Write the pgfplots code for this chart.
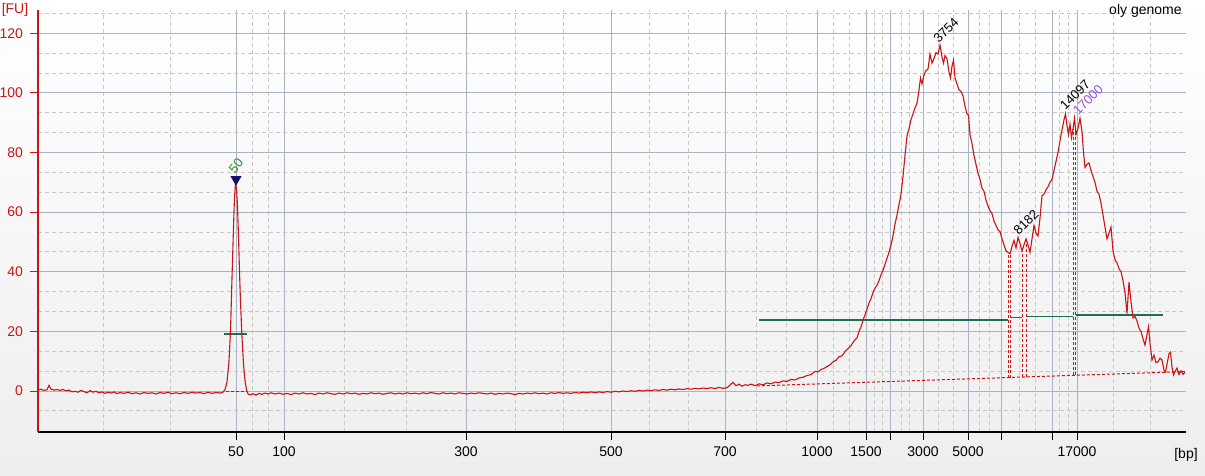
\documentclass[border=0pt]{standalone}
\usepackage{fontspec}
\setmainfont{Liberation Sans}
\usepackage{pgfplots}
\pgfplotsset{compat=1.18}
\definecolor{trace}{RGB}{204,20,20}
\definecolor{bgbot}{RGB}{238,238,238}
\definecolor{gridmaj}{RGB}{170,178,195}
\definecolor{gridmin}{RGB}{200,200,200}
\definecolor{thr}{RGB}{30,110,80}
\definecolor{ladder}{RGB}{40,140,40}
\definecolor{navy}{RGB}{20,20,110}
\definecolor{purp}{RGB}{150,80,220}
\begin{document}
\begin{tikzpicture}
\useasboundingbox (0,0) rectangle (602.5pt,238pt);
\shade[top color=white,bottom color=bgbot] (0,0) rectangle (602.5pt,238pt);
\begin{axis}[
  at={(19pt,22pt)}, anchor=south west,
  scale only axis, width=574pt, height=211pt,
  xmin=38, xmax=1186, ymin=-13.75, ymax=127.8,
  axis x line=bottom, axis y line=left, axis line style={-},
  x axis line style={black, line width=0.6pt},
  y axis line style={trace, line width=0.8pt},
  xtick={236,284,466,611,725,817,866,890,923,968,1001,1052,1077},
  xticklabels={50,100,300,500,700,1000,1500,,3000,5000,,,17000},
  minor xtick={103,170,252,268,344,406,515,563,649,688,756,786,833,849,874,882,901,909,938,953,979,989,1019,1035,1059,1068,1113,1150},
  ytick={0,20,...,120},
  minor ytick={-6.667,6.667,13.333,26.667,33.333,46.667,53.333,66.667,73.333,86.667,93.333,106.667,113.333,126.667},
  grid=both,
  major grid style={gridmaj, line width=0.5pt},
  minor grid style={gridmin, dash pattern=on 2pt off 1.5pt, line width=0.4pt},
  tick align=outside,
  major tick length=4pt, minor tick length=0pt,
  xtick style={black, line width=0.5pt},
  ytick style={trace, line width=0.5pt},
  ticklabel style={font=\fontsize{7}{8}\selectfont},
  yticklabel style={text=trace},
  /pgf/number format/assume math mode=true,
  clip=false,
]
% baselines
\addplot[trace, line width=0.5pt, dash pattern=on 1.5pt off 1pt] coordinates {(226,0) (247,0)};
\addplot[trace, line width=0.5pt, dash pattern=on 1.5pt off 1pt] coordinates {(757,1.7) (1185,6.5)};
% peak borders
\addplot[trace, line width=0.5pt, dash pattern=on 1.5pt off 1pt] coordinates {(1008.3,4.5) (1008.3,46.5)};
\addplot[trace, line width=0.5pt, dash pattern=on 1.5pt off 1pt] coordinates {(1010.7,4.5) (1010.7,46)};
\addplot[trace, line width=0.5pt, dash pattern=on 1.5pt off 1pt] coordinates {(1022.3,4.7) (1022.3,47)};
\addplot[trace, line width=0.5pt, dash pattern=on 1.5pt off 1pt] coordinates {(1026.7,4.7) (1026.7,51)};
\addplot[trace, line width=0.5pt, dash pattern=on 1.5pt off 1pt] coordinates {(1073.3,5.25) (1073.3,88)};
\addplot[trace, line width=0.5pt, dash pattern=on 1.5pt off 1pt] coordinates {(1075.7,5.25) (1075.7,88)};
% thresholds
\addplot[thr, line width=0.6pt] coordinates {(224,19.1) (246.7,19.1)};
\addplot[thr, line width=0.6pt] coordinates {(759,23.8) (1008.3,23.8)};
\addplot[thr, line width=0.6pt] coordinates {(1010.7,24.6) (1022.3,24.6)};
\addplot[thr, line width=0.6pt] coordinates {(1026.7,25.0) (1073.3,25.0)};
\addplot[thr, line width=0.6pt] coordinates {(1075.7,25.5) (1163,25.5)};
% trace
\addplot[trace, line width=0.55pt] coordinates {
(38,0.3) (41,0.6) (44,0.2) (47,0.4) (49,1.9) (51,0.6) (54,0.3) (57,0.5) (60,0.2) (63,0.5)
(66,0.1) (69,0.3) (72,-0.3) (75,-0.1) (78,-0.4) (81,0.2) (84,-0.2) (87,-0.6) (90,0.1) (93,-0.4)
(96,-0.1) (99,-0.6) (102,-0.3) (105,-0.8) (108,-0.4) (111,-0.7) (114,-0.3) (117,-0.9) (120,-0.5)
(124,-0.8) (128,-0.4) (132,-0.9) (136,-0.6) (140,-1.0) (144,-0.5) (148,-0.8) (152,-0.6) (156,-1.0)
(160,-0.5) (164,-0.8) (168,-0.4) (172,-0.9) (176,-0.6) (180,-0.9) (184,-0.5) (188,-0.8) (192,-0.4)
(196,-0.7) (200,-0.5) (204,-0.9) (208,-0.4) (212,-0.8) (216,-0.5) (220,-0.7) (223,-0.4)
(225,0.5) (227,3) (229,10) (230.5,20) (232,38) (233.5,55) (234.5,65) (235.5,69.5) (236.5,68)
(237.5,62) (238.5,52) (239.5,40) (240.5,30) (242,18) (243.5,9) (245,3.5) (246.5,0.5) (248,-1.0)
(250,-1.3) (253,-0.9) (256,-1.4) (259,-0.8) (262,-1.1) (265,-0.7) (268,-1.0) (271,-0.6) (275,-1.0)
(279,-0.7) (283,-1.1) (287,-0.8) (291,-1.2) (295,-0.7) (299,-1.0) (303,-0.6) (307,-1.0) (311,-0.8)
(315,-1.2) (319,-0.7) (323,-1.0) (327,-0.6) (331,-0.9) (335,-1.1) (339,-0.7) (343,-1.0) (347,-0.6)
(351,-0.9) (355,-0.7) (359,-1.1) (363,-0.8) (367,-1.0) (371,-0.6) (375,-0.9) (379,-0.7) (383,-1.1)
(387,-0.8) (391,-0.6) (395,-1.0) (399,-0.7) (403,-1.0) (407,-0.6) (411,-0.9) (415,-0.7) (419,-1.0)
(423,-0.6) (427,-0.9) (431,-0.5) (435,-0.8) (439,-1.0) (443,-0.6) (447,-0.9) (451,-0.7) (455,-1.0)
(459,-0.6) (463,-0.8) (467,-1.0) (471,-0.7) (475,-0.9) (479,-0.6) (483,-0.8) (487,-1.0) (491,-0.7)
(495,-1.1) (499,-0.8) (503,-1.0) (507,-0.7) (511,-0.9) (515,-1.2) (519,-0.8) (523,-1.0) (527,-0.7)
(531,-0.9) (535,-0.6) (539,-0.9) (543,-0.7) (547,-1.0) (551,-0.6) (555,-0.8) (559,-0.5) (563,-0.8)
(567,-0.6) (571,-0.8) (575,-0.5) (579,-0.7) (583,-0.4) (587,-0.6) (591,-0.3) (595,-0.6) (599,-0.3)
(603,-0.5) (607,-0.2) (611,-0.4) (615,-0.1) (619,-0.3) (623,0.0) (627,-0.2) (631,0.1) (635,-0.1)
(639,0.2) (643,0.0) (647,0.3) (651,0.1) (655,0.4) (659,0.2) (663,0.5) (667,0.3) (671,0.6) (675,0.4)
(679,0.7) (683,0.5) (687,0.8) (691,0.6) (695,0.9) (699,0.7) (703,1.0) (707,0.8) (711,1.1) (715,0.8)
(719,1.2) (723,0.9) (727,1.1) (730,2.0) (733,2.9) (736,1.8) (739,2.3) (742,1.6) (745,2.1) (748,1.9)
(751,2.3) (755,1.8) (759,2.4) (763,2.1) (767,2.7) (771,2.4) (775,3.0) (779,2.8) (783,3.4) (787,3.2)
(791,3.9) (795,3.7) (799,4.4) (803,4.6) (807,5.2) (811,5.5) (815,6.6) (818,6.4) (821,7.2) (824,7.6)
(827,8.2) (830,8.8) (833,9.8) (836,10.3) (839,11.5) (842,11.8) (845,13.2) (848,14.2) (851,15.2)
(854,16.8) (857,17.8) (859,20) (861,21.5) (863,23.8) (865,25.5) (867,27.5) (869,29.5) (871,31)
(873,33) (875,34.5) (877,35.5) (879,37) (881,39) (883,40.5) (885,42.5) (887,44.5) (889,46.5)
(891,49) (893,52) (895,56) (897,59) (899,62.5) (901,66) (903,72) (905,79) (907,85.5) (909,88)
(911,91) (913,93) (915,95) (917,96.5) (919,101) (920.5,105) (922,103) (924,106) (926,107.5)
(928,108) (930,113) (932,110) (934,111.5) (936,113.5) (938,113) (940,116) (942,112) (943.5,110)
(945,112.5) (947,111.5) (949,107) (950.5,105) (952,109) (953.5,111) (955,105) (957,103) (959,101)
(961,100.5) (963,99) (965,95.5) (967,93) (968.5,92.5) (970,86) (972,83) (974,79) (976,76) (978,73)
(980,71) (982,68) (984,67) (986,64) (988,62) (990,60.5) (992,59.5) (994,57) (996,55.5) (998,54)
(1000,53.5) (1002,51) (1004,49) (1006,47) (1008,46.5) (1010,46) (1012,48.5) (1014,50.5) (1016,48)
(1018,51.5) (1020,49.5) (1022,47) (1024,49) (1026,51) (1028,49) (1030,46.5) (1032,51) (1034,55.5)
(1036,53) (1038,52) (1040,58) (1042,65.5) (1044,66) (1046,67.5) (1048,68.5) (1050,70) (1052,71)
(1054,74) (1056,77) (1058,80) (1060,84) (1062,87.5) (1064,91) (1065.5,93) (1067,89) (1068.5,86)
(1070,89.5) (1071.5,85) (1073,88) (1074.5,91.5) (1076,86) (1078,88) (1080,91.5) (1082,87) (1083.5,80)
(1085,75) (1087,76) (1089,76.5) (1091,74) (1093,72) (1095,70) (1097,67) (1099,66) (1101,63) (1103,59)
(1105,55) (1107,51) (1109,53) (1111,55) (1113,47) (1115,44) (1117,43) (1119,41) (1121,40) (1123,37)
(1125,33) (1127,26) (1129,36.5) (1131,30) (1133,24.5) (1135,25) (1137,23.5) (1139,21) (1141,20)
(1143,17.5) (1145,15.4) (1147,19) (1148.5,21.5) (1150,16) (1152,10.4) (1154,12) (1156,9.5) (1158,9.8)
(1160,11) (1162,10.4) (1164,7) (1165.5,6.4) (1167,9) (1169,12.5) (1170.5,13) (1172,8) (1173.5,5.4)
(1175,6.5) (1177,7.7) (1179,5.5) (1181,6.8) (1183,5.6) (1185,6.2)
};
% ladder marker
\addplot[only marks, mark=triangle*, mark size=2.8pt, color=navy, mark options={rotate=180, fill=navy}] coordinates {(236,71)};
% peak labels
\node[rotate=50, text=ladder, font=\fontsize{6.5}{7}\selectfont, inner sep=0pt] at (axis cs:236,75.5) {50};
\node[rotate=45, font=\fontsize{6.5}{7}\selectfont, inner sep=0pt] at (axis cs:946,121.1) {3754};
\node[rotate=45, font=\fontsize{6.5}{7}\selectfont, inner sep=0pt] at (axis cs:1026,56.7) {8182};
\node[rotate=45, font=\fontsize{6.5}{7}\selectfont, inner sep=0pt] at (axis cs:1075,99.3) {14097};
\node[rotate=45, text=purp, font=\fontsize{6.5}{7}\selectfont, inner sep=0pt] at (axis cs:1088,97.6) {17000};
\end{axis}
\node[text=trace, font=\fontsize{7}{8}\selectfont, inner sep=0pt] at (7.5pt,233pt) {[FU]};
\node[font=\fontsize{7}{8}\selectfont, inner sep=0pt] at (593pt,10.5pt) {[bp]};
\node[font=\fontsize{7}{8}\selectfont, inner sep=0pt, anchor=east] at (591pt,232.5pt) {oly genome};
\end{tikzpicture}
\end{document}
